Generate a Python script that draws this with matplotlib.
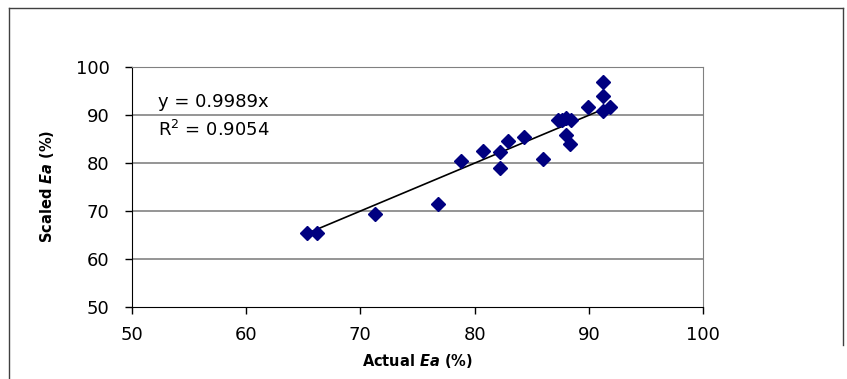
import matplotlib
matplotlib.use("Agg")
import matplotlib.pyplot as plt
from matplotlib.lines import Line2D

# values
actual_ea = [65.3, 66.2, 71.3, 76.8, 78.8, 80.7, 82.2, 82.2, 82.9, 84.3, 86.0,
             87.3, 87.6, 88.0, 88.4, 88.0, 88.3, 89.9, 91.2, 91.2, 91.2, 91.8]
scaled_ea = [65.4, 65.4, 69.3, 71.4, 80.4, 82.5, 82.2, 78.8, 84.5, 85.4, 80.7,
             88.8, 88.9, 89.3, 88.8, 85.8, 83.9, 91.7, 96.9, 93.8, 90.7, 91.7]
slope = 0.9989
r_squared = 0.9054
ticks = [50, 60, 70, 80, 90, 100]

plt.rcParams["mathtext.fontset"] = "dejavusans"

W, H = 847, 379
fig = plt.figure(figsize=(W / 100, H / 100), dpi=100)
ax = fig.add_axes([131.7 / W, 1 - 306.7 / H, (703.3 - 131.7) / W, (306.7 - 66.7) / H])

# horizontal gridlines
for t in ticks[1:]:
    ax.axhline(t, color="#787878", lw=1.1, zorder=1)

# trendline through origin, drawn over the data range
x0, x1 = min(actual_ea), max(actual_ea)
ax.plot([x0, x1], [slope * x0, slope * x1], color="black", lw=1.2, zorder=2)
ax.plot(actual_ea, scaled_ea, linestyle="none", marker="D", ms=6.8,
        color="#000080", mec="#000080", zorder=3)

ax.set_xlim(50, 100)
ax.set_ylim(50, 100)
ax.set_xticks(ticks)
ax.set_yticks(ticks)
ax.tick_params(axis="both", direction="out", length=5, width=1, colors="black",
               labelsize=13)
ax.tick_params(axis="x", pad=9)
ax.tick_params(axis="y", pad=11)

ax.spines["left"].set_color("black")
ax.spines["bottom"].set_color("black")
ax.spines["right"].set_color("#808080")
ax.spines["top"].set_color("#808080")

lab_kw = dict(fontsize=10.5, fontweight="bold")
ax.set_xlabel(r"Actual $\mathbfit{Ea}$ (%)", labelpad=6, **lab_kw)
ax.set_ylabel(r"Scaled $\mathbfit{Ea}$ (%)", labelpad=14, **lab_kw)

ax.text(52.3, 92.6, f"y = {slope:.4f}x", fontsize=13, va="center", ha="left")
ax.text(52.3, 86.8, f"R$^2$ = {r_squared:.4f}", fontsize=13,
        va="center", ha="left")

# outer chart frame
def fx(px):
    return px / W

def fy(py):
    return 1 - py / H

frame = dict(color="#404040", lw=1.0, transform=fig.transFigure)
fig.add_artist(Line2D([fx(9), fx(9)], [fy(8), fy(379)], **frame))
fig.add_artist(Line2D([fx(9), fx(843)], [fy(8), fy(8)], **frame))
fig.add_artist(Line2D([fx(843), fx(843)], [fy(8), fy(345)], **frame))

fig.savefig("out.png", dpi=100)
